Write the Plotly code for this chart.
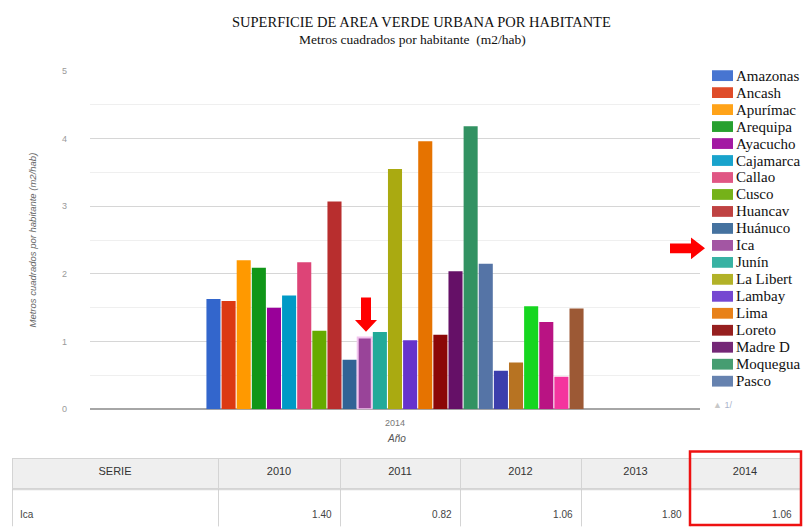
import plotly.graph_objects as go

W, H = 806, 532

# ---------------- data ----------------
categories = ["2014"]
regions = ["Amazonas", "Ancash", "Apurímac", "Arequipa", "Ayacucho", "Cajamarca",
           "Callao", "Cusco", "Huancav", "Huánuco", "Ica", "Junín", "La Libert",
           "Lambay", "Lima", "Loreto", "Madre D", "Moquegua", "Pasco",
           "Piura", "Puno", "San Martín", "Tacna", "Tumbes", "Ucayali"]
values_2014 = [1.63, 1.60, 2.20, 2.09, 1.50, 1.68, 2.17, 1.16, 3.07, 0.73, 1.06, 1.14,
               3.55, 1.02, 3.96, 1.10, 2.04, 4.18, 2.15, 0.57, 0.69, 1.52, 1.29, 0.48, 1.49]
colors = ["#3366cc", "#dc3912", "#ff9900", "#109618", "#990099", "#0099c6", "#dd4477",
          "#66aa00", "#b82e2e", "#316395", "#994499", "#22aa99", "#aaaa11", "#6633cc",
          "#e67300", "#8b0707", "#651067", "#329262", "#5574a6", "#3b3eac", "#b77322",
          "#16d620", "#b91383", "#f4359e", "#9c5935"]
legend_count = 19  # first page of the legend

table_header = ["SERIE", "2010", "2011", "2012", "2013", "2014"]
table_series = ["Ica"]
table_values = [1.40, 0.82, 1.06, 1.80, 1.06]
highlight = "Ica"

# ---------------- helpers ----------------
def px(x):
    return x / W

def py(y):
    return 1 - y / H

fig = go.Figure()
for name, v, c in zip(regions, values_2014, colors):
    sel = name == highlight
    fig.add_trace(go.Bar(
        x=categories, y=[v], name=name, showlegend=False,
        marker=dict(color=c,
                    line=dict(color="#f2c4ee" if sel else c, width=2 if sel else 0)),
    ))

# table
SP = "\u00a0<br>"
fig.add_trace(go.Table(
    domain=dict(x=[px(12), px(800)], y=[py(532), py(462)]),
    columnwidth=[206, 122, 120, 121, 109, 110],
    header=dict(values=table_header,
                fill_color="#efefef", line_color="#d4d4d4",
                align="center", height=30,
                font=dict(family="Liberation Sans Narrow, Arial Narrow, sans-serif",
                          size=11, color="#333333")),
    cells=dict(values=[[SP + s for s in table_series]] +
                      [[SP + f"{v:.2f}"] for v in table_values],
               fill_color="white", line_color="#d4d4d4",
               align=["left", "right", "right", "right", "right", "right"], height=43,
               font=dict(family="Liberation Sans Narrow, Arial Narrow, sans-serif",
                         size=10, color="#444444")),
))

shapes = []
annotations = []

# custom legend (first page)
for i in range(legend_count):
    yc = 72 + i * 17.3
    shapes.append(dict(type="rect", xref="paper", yref="paper",
                       x0=px(712), x1=px(733), y0=py(yc + 5.5), y1=py(yc - 5.5),
                       fillcolor=colors[i], line=dict(width=0), opacity=0.9))
    annotations.append(dict(text=regions[i], xref="paper", yref="paper",
                            x=px(734), y=py(yc), xanchor="left", yanchor="middle",
                            showarrow=False,
                            font=dict(family="Liberation Serif, Times New Roman, serif",
                                      size=15, color="#111111")))
annotations.append(dict(text="<span style='color:#c8c8c8'>▲</span> 1/", xref="paper", yref="paper",
                        x=px(711), y=py(408), xanchor="left", yanchor="middle",
                        showarrow=False,
                        font=dict(family="Liberation Sans, Arial, sans-serif", size=9,
                                  color="#a9b4cc")))

# titles
annotations.append(dict(text="SUPERFICIE DE AREA VERDE URBANA POR HABITANTE",
                        xref="paper", yref="paper", x=px(422), y=py(17),
                        xanchor="center", yanchor="middle", showarrow=False,
                        font=dict(family="Liberation Serif, Times New Roman, serif",
                                  size=14.5, color="#111111")))
annotations.append(dict(text="Metros cuadrados por habitante  (m2/hab)",
                        xref="paper", yref="paper", x=px(412), y=py(35),
                        xanchor="center", yanchor="middle", showarrow=False,
                        font=dict(family="Liberation Serif, Times New Roman, serif",
                                  size=13.5, color="#111111")))
# axis titles
annotations.append(dict(text="<i>Metros cuadrados por habitante (m2/hab)</i>",
                        xref="paper", yref="paper", x=px(32), y=py(240),
                        xanchor="center", yanchor="middle", textangle=-90, showarrow=False,
                        font=dict(family="Liberation Sans, Arial, sans-serif", size=9.5,
                                  color="#666666")))
annotations.append(dict(text="<i>Año</i>",
                        xref="paper", yref="paper", x=px(396), y=py(442),
                        xanchor="center", yanchor="middle", showarrow=False,
                        font=dict(family="Liberation Sans, Arial, sans-serif", size=10,
                                  color="#555555")))

# separator line in the table
shapes.append(dict(type="line", xref="paper", yref="paper", layer="above",
                   x0=px(12), x1=px(800), y0=py(494), y1=py(494),
                   line=dict(color="#cfcfcf", width=1)))
# red box around 2014 column
shapes.append(dict(type="rect", xref="paper", yref="paper",
                   x0=px(690), x1=px(801), y0=py(530), y1=py(455),
                   line=dict(color="#ee1111", width=2.5)))

# red arrows
def poly(points):
    return "M " + " L ".join(f"{px(a):.5f},{py(b):.5f}" for a, b in points) + " Z"

shapes.append(dict(type="path", xref="paper", yref="paper",
                   path=poly([(361, 298), (371, 298), (371, 321), (377, 321), (366, 333),
                              (355, 321), (361, 321)]),
                   fillcolor="#ff0000", line=dict(width=0)))
shapes.append(dict(type="path", xref="paper", yref="paper",
                   path=poly([(670, 243), (691, 243), (691, 237), (705, 248), (691, 259),
                              (691, 253), (670, 253)]),
                   fillcolor="#ff0000", line=dict(width=0)))

fig.update_layout(
    width=W, height=H,
    margin=dict(l=0, r=0, t=0, b=0),
    paper_bgcolor="white", plot_bgcolor="white",
    showlegend=False,
    barmode="group", bargap=0.38, bargroupgap=0.07,
    xaxis=dict(domain=[px(90), px(700)], type="category",
               showgrid=False, showline=False, ticks="",
               tickfont=dict(family="Liberation Sans, Arial, sans-serif", size=9, color="#777777"),
               ticklabelstandoff=7),
    yaxis=dict(domain=[py(412), py(67)], range=[0, 5], dtick=1,
               showgrid=True, gridcolor="#d6d6d6", gridwidth=1,
               zeroline=True, zerolinecolor="#a6a6a6", zerolinewidth=1.5,
               minor=dict(dtick=0.5, showgrid=True, gridcolor="#efefef", gridwidth=1),
               tickfont=dict(family="Liberation Sans, Arial, sans-serif", size=9, color="#9a9a9a"),
               ticklabelstandoff=22),
    shapes=shapes, annotations=annotations,
)

fig.write_html("out.html")
